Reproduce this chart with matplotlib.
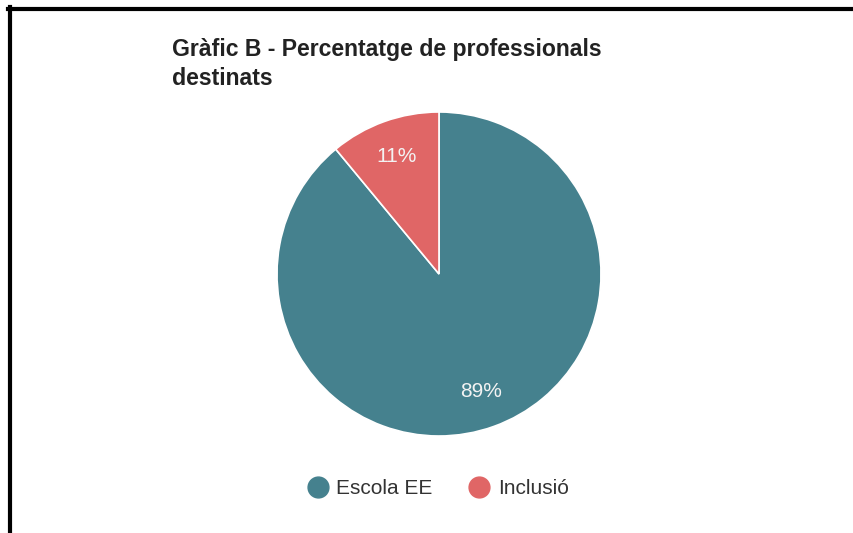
import matplotlib.pyplot as plt
from matplotlib.lines import Line2D

plt.rcParams['font.family'] = ['Liberation Sans', 'DejaVu Sans']

labels = ['Escola EE', 'Inclusió']
values = [89, 11]
colors = ['#45818e', '#e06666']

W, H = 854, 533
fig = plt.figure(figsize=(W / 100, H / 100), dpi=100)

# pie placed in pixel coords: centre (439, 274), radius 162
cx, cy, r = 439, 274, 162
ax = fig.add_axes([(cx - r) / W, (H - cy - r) / H, 2 * r / W, 2 * r / H])
wedges, texts, autotexts = ax.pie(values, colors=colors, startangle=90, counterclock=False,
                                  autopct='%1.0f%%', pctdistance=0.77,
                                  wedgeprops=dict(edgecolor='white', linewidth=1.2),
                                  textprops=dict(color='#f3f3f3', fontsize=15))
ax.set_xlim(-1, 1)
ax.set_ylim(-1, 1)
ax.set_aspect('auto')
ax.axis('off')

fig.text(172 / W, 1 - 64 / H, 'Gràfic B - Percentatge de professionals\ndestinats',
         fontsize=16.6, fontweight='bold', color='#222222', va='center', ha='left',
         linespacing=1.36)

# legend
handles = [Line2D([], [], marker='o', linestyle='', markersize=15, color=c) for c in colors]
fig.legend(handles, labels, loc='center', bbox_to_anchor=(438 / W, 1 - 489 / H), ncol=2,
           frameon=False, fontsize=15, handlelength=1.0, handletextpad=0.38,
           columnspacing=1.76, labelcolor='#333333')

# border lines (top and left)
fig.add_artist(Line2D([8 / W, 1], [1 - 9 / H, 1 - 9 / H], color='black', linewidth=3,
                      transform=fig.transFigure))
fig.add_artist(Line2D([10 / W, 10 / W], [1 - 7 / H, 0], color='black', linewidth=3,
                      transform=fig.transFigure))

fig.savefig('out.png', dpi=100)
